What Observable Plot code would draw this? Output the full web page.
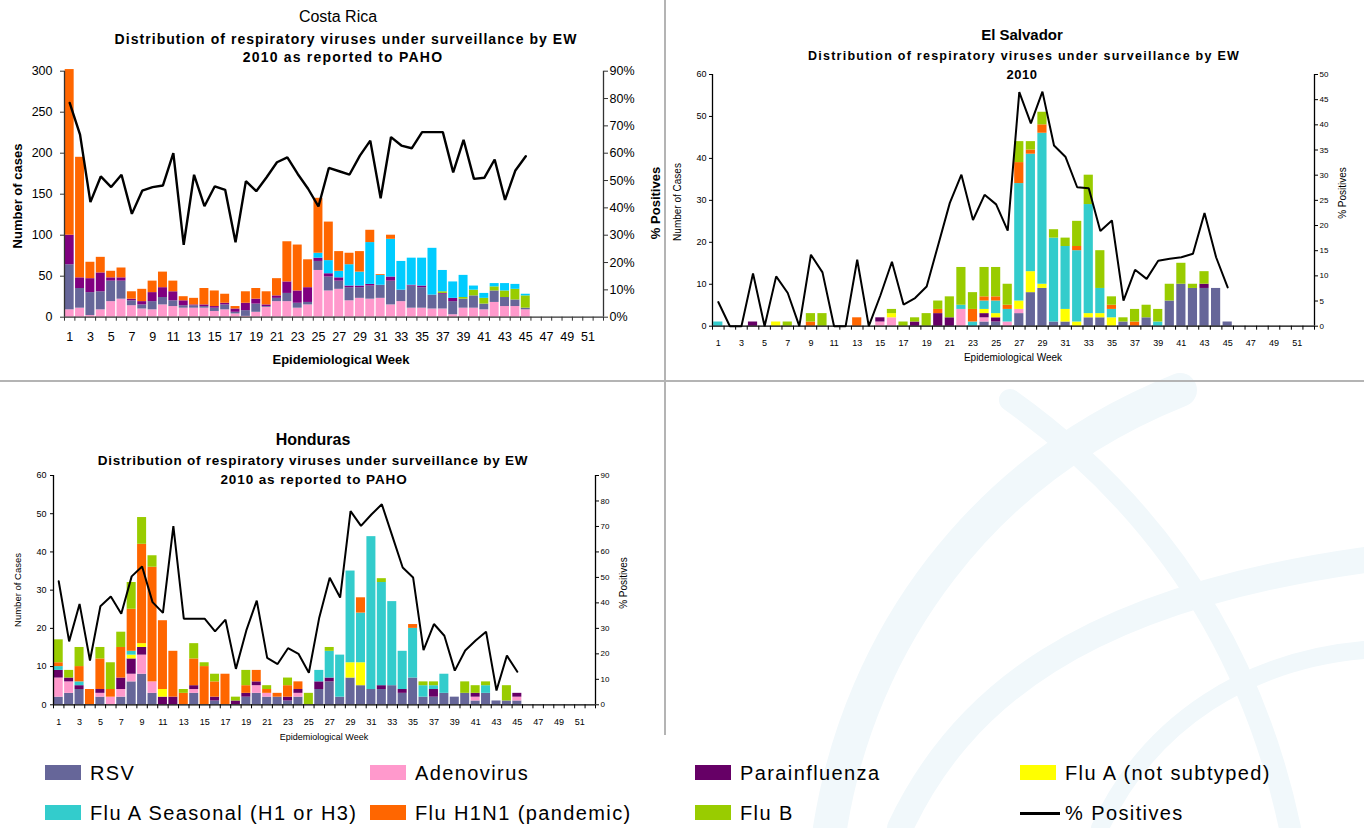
<!DOCTYPE html>
<html><head><meta charset="utf-8">
<script src="https://cdn.jsdelivr.net/npm/d3@7"></script>
<script src="https://cdn.jsdelivr.net/npm/@observablehq/plot@0.6"></script>
<style>
body{margin:0;background:#fff;font-family:"Liberation Sans",Arial,sans-serif;}
#root{position:relative;width:1364px;height:828px;overflow:hidden;background:#fff}
.abs{position:absolute}
.c{position:absolute;transform:translate(-50%,-50%);white-space:nowrap;color:#000;line-height:1}
.r{position:absolute;transform:translate(-50%,-50%) rotate(-90deg);white-space:nowrap;color:#000;line-height:1}
.lg{position:absolute;font-size:20px;letter-spacing:1.4px;color:#000;white-space:nowrap;line-height:1}
.sw{position:absolute;width:36px;height:15px}
</style></head><body><div id="root"></div><script>
// ---------- shared categories ----------
const weeks = [1,2,3,4,5,6,7,8,9,10,11,12,13,14,15,16,17,18,19,20,21,22,23,24,25,26,27,28,29,30,31,32,33,34,35,36,37,38,39,40,41,42,43,44,45];
const weekTicks = [1,3,5,7,9,11,13,15,17,19,21,23,25,27,29,31,33,35,37,39,41,43,45,47,49,51];
const virusNames = ["RSV","Adenovirus","Parainfluenza","Flu A (not subtyped)","Flu A Seasonal (H1 or H3)","Flu H1N1 (pandemic)","Flu B"];
const virusColors = ["#666699","#FF99CC","#660066","#FFFF00","#33CCCC","#FF6600","#99CC00"];

// ---------- Costa Rica ----------
const crAdeno = [9,11,2,9,19,22,14,10,9,15, 13,11,11,11,7,9,4,1,6,12, 19,19,11,15,57,32,34,20,23,22, 23,15,19,11,11,10,10,3,11,11, 9,18,13,13,9];
const crRSV   = [55,24,28,22,25,22,6,5,10,9, 7,3,3,2,4,6,2,7,10,1, 4,10,6,3,11,17,10,16,13,16, 16,29,14,27,25,17,18,16,11,15, 7,14,11,8,2];
const crPara  = [36,13,17,23,4,4,2,4,11,12, 11,6,1,2,2,2,4,9,6,2, 3,14,15,18,4,4,4,2,2,2, 0,5,0,1,2,0,1,4,0,0, 0,0,0,0,0];
const crFluB  = [0,0,0,0,0,0,0,0,0,0, 0,0,0,0,0,0,0,0,0,0, 0,0,0,0,0,0,0,0,0,0, 0,0,0,0,0,0,2,0,2,7, 7,5,8,13,15];
const crFluASeas = [0,0,0,0,0,0,0,0,0,0, 0,0,0,0,0,0,0,0,0,0, 0,0,0,0,6,16,8,26,17,51, 12,46,35,33,34,57,26,20,27,5, 6,4,9,6,2];
const crH1N1  = [202,147,20,19,8,12,9,15,14,19, 13,5,8,20,19,11,3,14,13,16, 21,49,56,34,67,47,24,14,25,15, 1,5,0,0,0,0,0,0,0,0, 0,0,0,0,0];
const crPct   = [78.4,66.8,42.1,51.5,47.6,52.1,37.8,46.3,47.6,48.2, 60.0,26.5,52.1,40.6,47.9,46.6,27.4,49.8,46.1,51.2, 56.7,58.5,52.4,47.0,40.5,54.6,53.4,52.2,59.1,64.6, 43.5,65.9,62.8,61.8,67.7,67.7,67.7,53.0,64.9,50.6, 51.0,57.7,42.9,53.7,58.9];

// ---------- El Salvador ----------
const esRSV   = [0,0,0,0,0,0,0,0,0,0, 0,0,0,0,0,0,0,0,0,0, 0,0,0,1,1,0,3,8,9,1, 1,0,2,2,0,1,0,2,0,6, 10,9,9,9,1];
const esAdeno = [0,0,0,0,0,0,0,0,0,0, 0,0,0,0,1,2,0,0,0,0, 0,4,0,1,0,1,1,0,0,0, 0,0,0,0,0,0,0,0,0,0, 0,0,0,0,0];
const esPara  = [0,0,0,1,0,0,0,0,0,0, 0,0,0,0,1,0,0,1,0,3, 2,0,0,1,1,0,0,0,0,0, 0,0,0,0,0,0,0,0,0,0, 0,0,1,0,0];
const esFluANs = [0,0,0,0,0,1,0,0,0,0, 0,0,0,0,0,1,0,0,0,0, 0,0,0,1,1,0,2,5,1,0, 3,1,1,1,2,0,0,0,0,0, 0,0,0,0,0];
const esFluASeas = [1,0,0,0,0,0,0,0,0,0, 0,0,0,0,0,0,0,0,0,0, 0,1,1,2,3,3,28,28,36,20, 15,17,26,6,2,0,0,0,1,0, 0,0,0,0,0];
const esH1N1  = [0,0,0,0,0,0,0,0,1,0, 0,0,2,0,0,0,0,0,0,1, 0,0,3,1,1,1,5,1,2,0, 0,1,0,0,1,0,1,0,0,0, 0,0,0,0,0];
const esFluB  = [0,0,0,0,0,0,1,0,2,3, 0,0,0,0,0,1,1,1,3,2, 5,9,4,7,7,5,5,2,3,2, 2,6,7,9,2,1,3,3,3,4, 5,1,3,0,0];
const esPct   = [4.8,0,0,10.5,0,9.9,6.6,0,14.2,10.7, 0,0,13.2,0,6.1,12.8,4.3,5.6,7.9,16.2, 24.5,30.1,21.1,26.1,24.2,19.0,46.5,40.3,46.6,35.9, 33.6,27.6,27.4,18.9,21.0,5.1,11.2,9.4,13.0,13.4, 13.7,14.4,22.5,13.7,7.7];

// ---------- Honduras ----------
const hnRSV   = [2,3,4,0,2,0,2,6,8,3, 0,0,0,3,0,1,0,0,2,3, 2,2,1,2,0,4,6,2,7,5, 4,4,5,3,7,2,2,3,2,3, 1,3,1,1,1];
const hnAdeno = [5,3,0,0,1,2,2,2,5,3, 0,0,0,1,0,0,0,0,0,2, 1,0,0,1,0,0,0,0,0,0, 0,0,0,0,0,0,0,0,0,0, 1,0,0,0,1];
const hnPara  = [2,1,1,0,1,0,3,4,2,0, 2,2,0,1,0,1,0,1,1,1, 0,0,1,1,0,2,1,0,0,0, 0,1,0,1,0,0,2,0,0,0, 1,0,0,0,1];
const hnFluANs = [0,0,0,0,0,0,0,1,1,0, 2,0,0,0,0,0,0,0,0,0, 0,0,0,0,0,0,0,0,4,6, 0,0,0,0,0,0,0,0,0,0, 0,0,0,0,0];
const hnFluASeas = [1,0,1,0,0,0,0,1,0,0, 0,0,0,0,0,0,0,0,0,0, 0,0,0,0,0,3,7,11,24,13, 40,27,22,10,13,3,1,5,0,0, 0,2,0,0,0];
const hnH1N1  = [1,0,4,4,8,2,8,11,26,30, 18,12,3,7,10,4,8,0,2,3, 1,1,3,2,0,0,0,0,0,4, 0,0,0,0,1,0,0,0,0,0, 0,0,0,0,0];
const hnFluB  = [6,2,5,0,3,7,4,7,7,3, 0,0,1,4,1,2,0,1,4,0, 1,0,2,0,3,0,1,0,0,0, 0,1,0,0,0,1,1,0,0,3, 2,1,0,4,0];
const hnPct   = [48.5,24.9,39.6,17.4,38.7,42.5,35.7,50.4,54.3,40.3, 36.1,70.1,33.8,33.8,33.8,28.8,33.4,14.1,29.2,40.9, 18.4,16.0,22.2,20.0,12.6,34.3,49.9,42.1,76.0,70.2, 74.7,78.7,66.3,53.9,50.0,21.5,31.7,27.1,13.4,21.3, 25.2,28.7,5.6,19.3,13.0];

const crLeftTicks = [0,50,100,150,200,250,300];
const crRightTicks = [0,10,20,30,40,50,60,70,80,90];
const esLeftTicks = [0,10,20,30,40,50,60];
const esRightTicks = [0,5,10,15,20,25,30,35,40,45,50];
const hnLeftTicks = [0,10,20,30,40,50,60];
const hnRightTicks = [0,10,20,30,40,50,60,70,80,90];

const FONT = '"Liberation Sans", Arial, sans-serif';
const root = document.getElementById("root");

function add(html){ root.insertAdjacentHTML("beforeend", html); }

// faint background watermark (decorative)
add(`<svg class="abs" style="left:0;top:0" width="1364" height="828">
  <g fill="none" stroke="#f1f8fb" stroke-linecap="round">
    <path d="M830,828 C860,640 980,470 1180,390" stroke-width="34"/>
    <path d="M900,828 C960,700 1080,600 1364,560" stroke-width="26"/>
    <path d="M1010,400 C1150,500 1250,640 1290,828" stroke-width="22"/>
    <path d="M1100,828 C1150,720 1250,660 1364,650" stroke-width="18"/>
  </g></svg>`);

function panel(c) {
  const table = [];
  weeks.forEach((w, i) => c.series.forEach(s => table.push({week: w, virus: s.name, value: s.values[i]})));
  const k = c.yMax / c.rMax;
  const lineData = weeks.map((w, i) => ({week: w, pct: c.pct[i]}));
  const bounds = d3.range(0.5, 53, 1);
  const svg = Plot.plot({
    width: c.width, height: c.height,
    marginLeft: c.ml, marginRight: c.mr, marginTop: c.mt, marginBottom: c.mb,
    x: {domain: [0.5, 52.5]},
    y: {domain: [0, c.yMax]},
    color: {domain: c.series.map(s => s.name), range: c.series.map(s => s.color)},
    style: {fontFamily: FONT, fontSize: c.fs + "px", color: "#000", background: "transparent", overflow: "visible"},
    marks: [
      Plot.rectY(table, {filter: d => d.value > 0, x1: d => d.week - 0.5, x2: d => d.week + 0.5, y: "value", fill: "virus", insetLeft: c.inset, insetRight: c.inset}),
      Plot.line(lineData, {x: "week", y: d => d.pct * k, stroke: "#000", strokeWidth: c.lw, strokeLinejoin: "miter"}),
      Plot.ruleY([0], {stroke: c.axisColor, strokeWidth: 1.3}),
      Plot.ruleX([0.5], {stroke: c.axisColor, strokeWidth: 1.3}),
      Plot.ruleX([52.5], {stroke: c.axisColor, strokeWidth: 1.3}),
      Plot.axisX({ticks: weekTicks, tickSize: 0, tickPadding: c.xPad, label: null, fontSize: c.fs}),
      Plot.axisX({ticks: bounds, tickSize: 4, tickFormat: () => "", label: null, stroke: c.axisColor}),
      Plot.axisY({anchor: "left", ticks: c.yTicks, tickSize: c.ts, tickPadding: c.lPad, label: null, stroke: c.axisColor, fontSize: c.fs}),
      Plot.axisY({anchor: "right", ticks: c.rTicks.map(t => t * k), tickSize: c.ts, tickPadding: c.rPad, label: null, stroke: c.axisColor, fontSize: c.rfs,
        tickFormat: d => Math.round(d / k) + c.rSuffix})
    ]
  });
  const holder = document.createElement("div");
  holder.className = "abs";
  holder.style.left = c.left + "px";
  holder.style.top = c.top + "px";
  holder.appendChild(svg);
  root.appendChild(holder);
}

// separators
add('<div class="abs" style="left:664px;top:0;width:2px;height:735px;background:#b4b4b4"></div>');
add('<div class="abs" style="left:0;top:380px;width:1364px;height:2px;background:#b4b4b4"></div>');

// Costa Rica
panel({
  left: 0, top: 60, width: 665, height: 290, ml: 64, mr: 62, mt: 10.7, mb: 33.3,
  yMax: 300, rMax: 90, yTicks: crLeftTicks, rTicks: crRightTicks, rSuffix: "%",
  fs: 12.5, rfs: 12.5, xPad: 15, lPad: 8, rPad: 2, ts: 4, inset: 0.7, lw: 2.4, axisColor: "#333",
  pct: crPct,
  series: [
    {name: "Adenovirus", values: crAdeno, color: "#FF99CC"},
    {name: "RSV", values: crRSV, color: "#666699"},
    {name: "Parainfluenza", values: crPara, color: "#800080"},
    {name: "Flu B", values: crFluB, color: "#99CC00"},
    {name: "Flu A Seasonal (H1 or H3)", values: crFluASeas, color: "#00CCFF"},
    {name: "Flu H1N1 (pandemic)", values: crH1N1, color: "#FF6600"}
  ]
});
add('<div class="c" style="left:338px;top:17px;font-size:16px">Costa Rica</div>');
add('<div class="c" style="left:346px;top:39px;font-size:14px;letter-spacing:1.05px;font-weight:bold">Distribution of respiratory viruses under surveillance by EW</div>');
add('<div class="c" style="left:343px;top:57px;font-size:14px;letter-spacing:1.2px;font-weight:bold">2010 as reported to PAHO</div>');
add('<div class="r" style="left:17px;top:196px;font-size:13px;font-weight:bold">Number of cases</div>');
add('<div class="r" style="left:655px;top:203px;font-size:13px;font-weight:bold">% Positives</div>');
add('<div class="c" style="left:341px;top:359px;font-size:13px;font-weight:bold">Epidemiological Week</div>');

// El Salvador
panel({
  left: 670, top: 60, width: 684, height: 290, ml: 42, mr: 40, mt: 14, mb: 24.3,
  yMax: 60, rMax: 50, yTicks: esLeftTicks, rTicks: esRightTicks, rSuffix: "",
  fs: 9, rfs: 8, xPad: 13, lPad: 3, rPad: 2, ts: 3, inset: 1.2, lw: 2, axisColor: "#000",
  pct: esPct,
  series: [
    {name: "RSV", values: esRSV, color: "#666699"},
    {name: "Adenovirus", values: esAdeno, color: "#FF99CC"},
    {name: "Parainfluenza", values: esPara, color: "#660066"},
    {name: "Flu A (not subtyped)", values: esFluANs, color: "#FFFF00"},
    {name: "Flu A Seasonal (H1 or H3)", values: esFluASeas, color: "#33CCCC"},
    {name: "Flu H1N1 (pandemic)", values: esH1N1, color: "#FF6600"},
    {name: "Flu B", values: esFluB, color: "#99CC00"}
  ]
});
add('<div class="c" style="left:1022px;top:34px;font-size:15px;font-weight:bold">El Salvador</div>');
add('<div class="c" style="left:1024px;top:56px;font-size:12.5px;letter-spacing:1.25px;font-weight:bold">Distribution of respiratory viruses under surveillance by EW</div>');
add('<div class="c" style="left:1022px;top:74px;font-size:13px;letter-spacing:0.5px;font-weight:bold">2010</div>');
add('<div class="r" style="left:678px;top:202px;font-size:10px">Number of Cases</div>');
add('<div class="r" style="left:1343px;top:193px;font-size:10px">% Positives</div>');
add('<div class="c" style="left:1013px;top:358px;font-size:10px">Epidemiological Week</div>');

// Honduras
panel({
  left: 0, top: 460, width: 665, height: 275, ml: 53, mr: 70, mt: 15, mb: 30.7,
  yMax: 60, rMax: 90, yTicks: hnLeftTicks, rTicks: hnRightTicks, rSuffix: "",
  fs: 9, rfs: 8, xPad: 14, lPad: 4, rPad: 2, ts: 3, inset: 0.7, lw: 2, axisColor: "#000",
  pct: hnPct,
  series: [
    {name: "RSV", values: hnRSV, color: "#666699"},
    {name: "Adenovirus", values: hnAdeno, color: "#FF99CC"},
    {name: "Parainfluenza", values: hnPara, color: "#660066"},
    {name: "Flu A (not subtyped)", values: hnFluANs, color: "#FFFF00"},
    {name: "Flu A Seasonal (H1 or H3)", values: hnFluASeas, color: "#33CCCC"},
    {name: "Flu H1N1 (pandemic)", values: hnH1N1, color: "#FF6600"},
    {name: "Flu B", values: hnFluB, color: "#99CC00"}
  ]
});
add('<div class="c" style="left:313px;top:440px;font-size:16px;font-weight:bold">Honduras</div>');
add('<div class="c" style="left:313px;top:461px;font-size:13.5px;letter-spacing:0.75px;font-weight:bold">Distribution of respiratory viruses under surveillance by EW</div>');
add('<div class="c" style="left:314px;top:480px;font-size:13.5px;letter-spacing:0.9px;font-weight:bold">2010 as reported to PAHO</div>');
add('<div class="r" style="left:18px;top:590px;font-size:9.5px">Number of Cases</div>');
add('<div class="r" style="left:624px;top:583px;font-size:10px">% Positives</div>');
add('<div class="c" style="left:324px;top:737px;font-size:9px">Epidemiological Week</div>');

// Legend
const legendX = [45, 370, 695, 1020];
const legendY = [773, 813];
const legendOrder = [0,1,2,3,4,5,6];
legendOrder.forEach((vi, j) => {
  const x = legendX[j % 4], y = legendY[Math.floor(j / 4)];
  add(`<div class="sw" style="left:${x}px;top:${y - 8}px;background:${virusColors[vi]}"></div>`);
  add(`<div class="lg" style="left:${x + 45}px;top:${y - 10}px">${virusNames[vi]}</div>`);
});
add(`<div class="abs" style="left:${legendX[3]}px;top:${legendY[1] - 1.5}px;width:40px;height:3px;background:#000"></div>`);
add(`<div class="lg" style="left:${legendX[3] + 45}px;top:${legendY[1] - 10}px">% Positives</div>`);
</script></body></html>
